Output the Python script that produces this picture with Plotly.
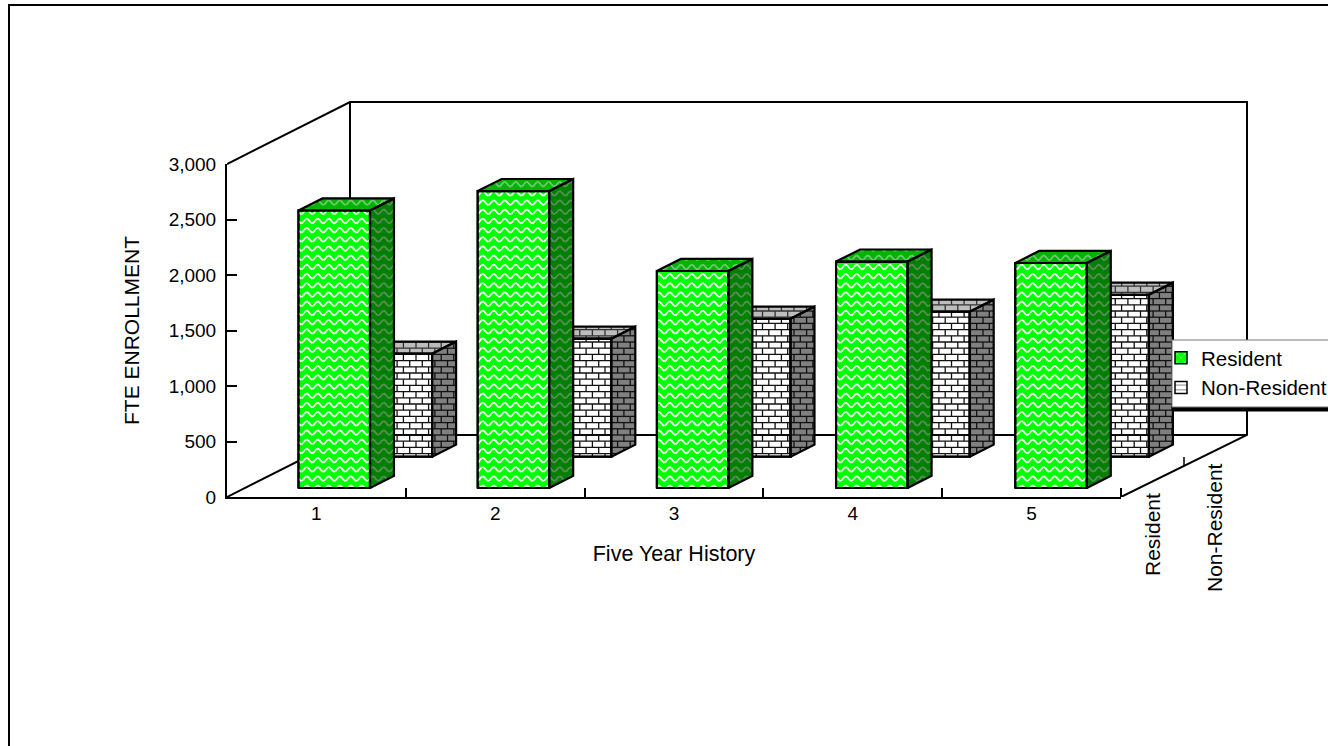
import math
import plotly.graph_objects as go

# ---- data ----
years = ["1", "2", "3", "4", "5"]
resident = [2500, 2675, 1955, 2040, 2027]
non_resident = [928, 1063, 1243, 1306, 1459]
series_names = ["Resident", "Non-Resident"]
y_ticks = [0, 500, 1000, 1500, 2000, 2500, 3000]

# ---- layout constants ----
W, H = 1328, 746
L, R, T, B = 227, 1121, 164, 497      # front axes box
PL, PT = 227, 60                      # wider plot area that holds the oblique depth
PX_X = (R - L) / len(years)           # px per category
PX_Y = (B - T) / 3000                 # px per unit
DX, DY = 123 / PX_X, 62 / PX_Y        # full depth vector in data units
DX_RIGHT = 126 / PX_X                 # depth run of the right-hand floor edge
CAT_STEP = 179.2 / PX_X               # bars drift very slightly right across the categories
BAR_W = 0.40
RES_D = (0.145, 0.34)
NON_D = (0.65, 0.845)
FONT = "Liberation Sans"


def clip(poly, p, q):
    """Clip segment p-q to a convex polygon given in data units."""
    a = [(x * PX_X, y * PX_Y) for x, y in poly]
    t0, t1 = 0.0, 1.0
    px_, py_ = p[0] * PX_X, p[1] * PX_Y
    vx, vy = q[0] * PX_X - px_, q[1] * PX_Y - py_
    area = sum(a[i][0] * a[(i + 1) % len(a)][1] - a[(i + 1) % len(a)][0] * a[i][1] for i in range(len(a)))
    s = 1 if area > 0 else -1
    for i in range(len(a)):
        ax, ay = a[i]
        bx, by = a[(i + 1) % len(a)]
        ex, ey = bx - ax, by - ay
        f0 = s * (ex * (py_ - ay) - ey * (px_ - ax))
        fv = s * (ex * vy - ey * vx)
        if abs(fv) < 1e-9:
            if f0 < 0:
                return None
            continue
        t = -f0 / fv
        if fv > 0:
            t0 = max(t0, t)
        else:
            t1 = min(t1, t)
        if t0 > t1:
            return None
    return ((p[0] + (q[0] - p[0]) * t0, p[1] + (q[1] - p[1]) * t0),
            (p[0] + (q[0] - p[0]) * t1, p[1] + (q[1] - p[1]) * t1))


def bounds(poly):
    xs = [p[0] * PX_X for p in poly]
    ys = [p[1] * PX_Y for p in poly]
    return min(xs), max(xs), min(ys), max(ys)


def add_seg(xs, ys, poly, p, q):
    c = clip(poly, (p[0] / PX_X, p[1] / PX_Y), (q[0] / PX_X, q[1] / PX_Y))
    if c:
        xs += [c[0][0], c[1][0], None]
        ys += [c[0][1], c[1][1], None]


def wave_texture(polys):
    xs, ys = [], []
    row, period, amp = 9.2, 11.0, 2.4
    for poly in polys:
        x0, x1, y0, y1 = bounds(poly)
        yy = math.floor(y0 / row) * row
        while yy < y1 + row:
            xx = math.floor(x0 / period) * period
            step = period / 8
            while xx < x1:
                a = (xx, yy + amp * math.sin(2 * math.pi * xx / period))
                b = (xx + step, yy + amp * math.sin(2 * math.pi * (xx + step) / period))
                add_seg(xs, ys, poly, a, b)
                xx += step
            yy += row
    return xs, ys


def brick_texture(polys):
    xs, ys = [], []
    row, brick = 6.2, 12.6
    for poly in polys:
        x0, x1, y0, y1 = bounds(poly)
        n = math.floor(y0 / row)
        while n * row < y1:
            yy = n * row
            add_seg(xs, ys, poly, (x0, yy), (x1, yy))
            off = brick / 2 if n % 2 else 0
            k = math.floor((x0 - off) / brick)
            while k * brick + off < x1:
                xx = k * brick + off
                add_seg(xs, ys, poly, (xx, yy), (xx, yy + row))
                k += 1
            n += 1
    return xs, ys


def centre(i, d0):
    return i * CAT_STEP + 0.5 + d0 * DX


def faces(values, d):
    """Return top and side polygons (data units) for a row of bars."""
    d0, d1 = d
    tops, sides = [], []
    for i, v in enumerate(values):
        xl = centre(i, d0) - BAR_W / 2
        xr = xl + BAR_W
        ox, oy = (d1 - d0) * DX, (d1 - d0) * DY
        yb = d0 * DY
        yt = yb + v
        tops.append([(xl, yt), (xr, yt), (xr + ox, yt + oy), (xl + ox, yt + oy)])
        sides.append([(xr, yb), (xr + ox, yb + oy), (xr + ox, yt + oy), (xr, yt)])
    return tops, sides


def fronts(values, d):
    d0 = d[0]
    out = []
    for i, v in enumerate(values):
        xl = centre(i, d0) - BAR_W / 2
        xr = xl + BAR_W
        yb = d0 * DY
        out.append([(xl, yb), (xr, yb), (xr, yb + v), (xl, yb + v)])
    return out


def closed(polys):
    xs, ys = [], []
    for poly in polys:
        xs += [p[0] for p in poly] + [poly[0][0], None]
        ys += [p[1] for p in poly] + [poly[0][1], None]
    return xs, ys


def add_row(fig, name, values, d, colors, tex, tex_colors, tex_w, xa, ya):
    d0 = d[0]
    fig.add_trace(go.Bar(
        x=[centre(i, d0) for i in range(len(values))], y=values,
        base=[d0 * DY] * len(values), width=BAR_W, name=name, showlegend=False,
        marker=dict(color=colors[0], line=dict(color="black", width=2)),
        hoverinfo="skip", xaxis=xa, yaxis=ya))
    tops, sides = faces(values, d)
    fr = fronts(values, d)
    tx, ty = tex(fr)
    fig.add_trace(go.Scatter(x=tx, y=ty, mode="lines", line=dict(color=tex_colors[0], width=tex_w),
                             showlegend=False, hoverinfo="skip", xaxis=xa, yaxis=ya))
    for polys, col, tcol in ((tops, colors[1], tex_colors[1]), (sides, colors[2], tex_colors[2])):
        px_, py_ = closed(polys)
        fig.add_trace(go.Scatter(x=px_, y=py_, mode="lines", fill="toself", fillcolor=col,
                                 line=dict(color=col, width=0), showlegend=False,
                                 hoverinfo="skip", xaxis=xa, yaxis=ya))
        tx, ty = tex(polys)
        fig.add_trace(go.Scatter(x=tx, y=ty, mode="lines", line=dict(color=tcol, width=tex_w),
                                 showlegend=False, hoverinfo="skip", xaxis=xa, yaxis=ya))
    ox, oy = closed(fr + tops + sides)
    fig.add_trace(go.Scatter(x=ox, y=oy, mode="lines", line=dict(color="black", width=2.2),
                             showlegend=False, hoverinfo="skip", xaxis=xa, yaxis=ya))


fig = go.Figure()
n = len(years)

# walls and floor (in the wide, unclipped axes)
wall_x = [0, DX, n + DX_RIGHT, n + DX_RIGHT, n, None, DX, DX, None, 0, DX, n + DX_RIGHT]
wall_y = [3000, 3000 + DY, 3000 + DY, DY, 0, None, 3000 + DY, DY, None, 0, DY, DY]
fig.add_trace(go.Scatter(x=wall_x, y=wall_y, mode="lines", line=dict(color="black", width=2),
                         showlegend=False, hoverinfo="skip", xaxis="x2", yaxis="y2"))
# depth-axis ticks
tick_h = 9 / PX_Y
dt_x, dt_y = [], []
for d in (0, 0.5):
    dt_x += [n + d * DX_RIGHT, n + d * DX_RIGHT, None]
    dt_y += [d * DY, d * DY + tick_h, None]
fig.add_trace(go.Scatter(x=dt_x, y=dt_y, mode="lines", line=dict(color="black", width=1.5),
                         showlegend=False, hoverinfo="skip", xaxis="x2", yaxis="y2"))

# back row paints first, front row on a later subplot so it paints over it
add_row(fig, series_names[1], non_resident, NON_D, ("#ffffff", "#bdbdbd", "#808080"),
        brick_texture, ("#111111", "#333333", "#111111"), 1.3, "x2", "y2")
add_row(fig, series_names[0], resident, RES_D, ("#00ff00", "#00b400", "#008000"),
        wave_texture, ("#ffffff", "#78c878", "#5f8f5f"), 1.8, "x3", "y3")

# legend entries
fig.add_trace(go.Bar(x=[0.5], y=[None], name=series_names[0], legendgroup="a",
                     marker=dict(color="#00ff00", line=dict(color="black", width=1.5),
                                 pattern=dict(shape="x", fgcolor="white", bgcolor="#00ff00", size=7, solidity=0.2))))
fig.add_trace(go.Bar(x=[0.5], y=[None], name=series_names[1], legendgroup="b",
                     marker=dict(color="white", line=dict(color="black", width=1.5),
                                 pattern=dict(shape="-", fgcolor="black", bgcolor="white", size=6, solidity=0.2))))


def px(x):
    return (x - PL) / (W - PL)


def py(y):
    return (B - y) / (B - PT)


shapes = [
    dict(type="line", xref="paper", yref="paper", x0=px(8), x1=px(W), y0=py(5), y1=py(5),
         line=dict(color="black", width=2)),
    dict(type="line", xref="paper", yref="paper", x0=px(9), x1=px(9), y0=py(5), y1=py(H),
         line=dict(color="black", width=2)),
    dict(type="rect", xref="paper", yref="paper", x0=px(1173), x1=px(W + 4), y0=py(407), y1=py(411.5),
         fillcolor="black", line=dict(width=0), layer="above"),
    dict(type="rect", xref="paper", yref="paper", x0=px(1172), x1=px(W + 4), y0=py(340), y1=py(407),
         fillcolor="white", line=dict(color="#777777", width=1), layer="above"),
]

annotations = [
    dict(xref="paper", yref="paper", x=px(1152), y=py(535), text=series_names[0], textangle=-90,
         xanchor="center", yanchor="middle", showarrow=False, font=dict(family=FONT, size=21, color="black")),
    dict(xref="paper", yref="paper", x=px(1214), y=py(528), text=series_names[1], textangle=-90,
         xanchor="center", yanchor="middle", showarrow=False, font=dict(family=FONT, size=21, color="black")),
]

wide_x = [0, (W - L) / PX_X]
wide_y = [0, (B - PT) / PX_Y]
hidden = dict(visible=False, showgrid=False, zeroline=False, fixedrange=True)

fig.update_layout(
    width=W, height=H, margin=dict(l=PL, r=0, t=PT, b=H - B, pad=0, autoexpand=False),
    paper_bgcolor="white", plot_bgcolor="rgba(0,0,0,0)", barmode="overlay",
    font=dict(family=FONT, size=19, color="black"),
    shapes=shapes, annotations=annotations,
    xaxis=dict(domain=[0, (R - L) / (W - PL)], range=[0, n], tickmode="array",
               tickvals=[i + 0.5 for i in range(n)], ticktext=years,
               ticks="", showgrid=False, zeroline=False, showline=True, linecolor="black", linewidth=2,
               tickfont=dict(size=19), ticklabelstandoff=-2,
               minor=dict(tickmode="array", tickvals=list(range(1, n + 1)), ticks="inside", ticklen=9,
                          tickwidth=1.5, tickcolor="black", showgrid=False),
               title=dict(text="Five Year History", font=dict(size=21.5), standoff=23)),
    yaxis=dict(domain=[0, (B - T) / (B - PT)], range=[0, 3000], tickmode="array", tickvals=y_ticks, tickformat=",",
               ticks="inside", ticklen=10, tickwidth=1.5, tickcolor="black", showgrid=False, zeroline=False,
               showline=True, linecolor="black", linewidth=2, tickfont=dict(size=19), ticklabelstandoff=5,
               title=dict(text="FTE ENROLLMENT", font=dict(size=21), standoff=23)),
    xaxis2=dict(domain=[0, 1], range=wide_x, anchor="y2", **hidden),
    yaxis2=dict(domain=[0, 1], range=wide_y, anchor="x2", **hidden),
    xaxis3=dict(domain=[0, 1], range=wide_x, anchor="y3", **hidden),
    yaxis3=dict(domain=[0, 1], range=wide_y, anchor="x3", **hidden),
    legend=dict(xref="container", yref="container", x=1169 / W, y=1 - 338 / H, xanchor="left", yanchor="top",
                bgcolor="rgba(0,0,0,0)", borderwidth=0, indentation=-8, tracegroupgap=7,
                font=dict(family=FONT, size=20.5, color="black"), traceorder="normal"),
)

fig.write_html("out.html", config=dict(displayModeBar=False),
               post_script="document.body.style.margin='0';document.documentElement.style.overflow='hidden';")
